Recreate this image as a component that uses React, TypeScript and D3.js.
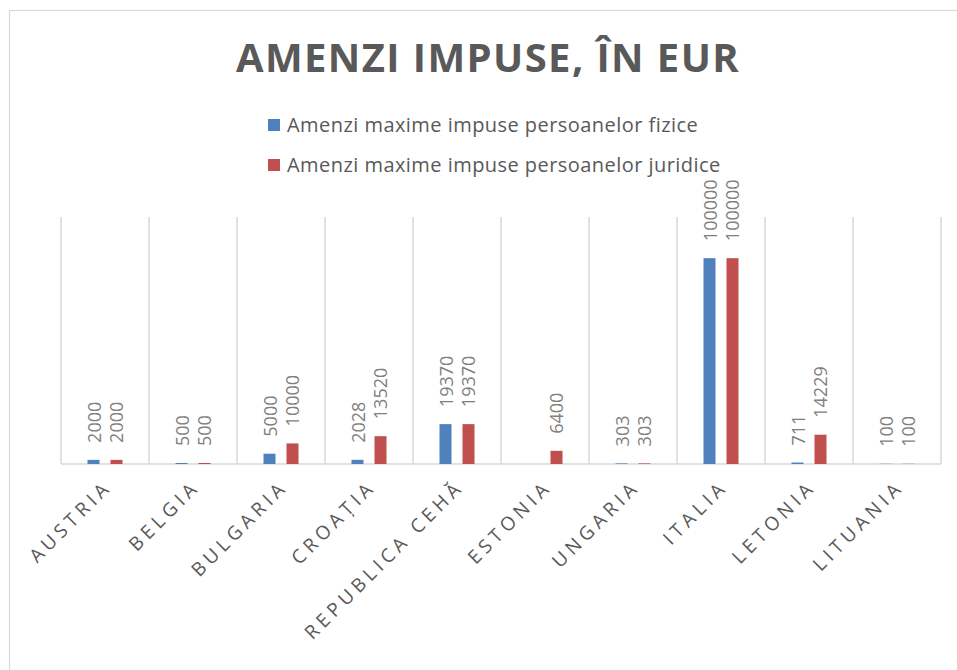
import React from "react";
import * as d3 from "d3";

const categories = ["AUSTRIA", "BELGIA", "BULGARIA", "CROAȚIA", "REPUBLICA CEHĂ", "ESTONIA", "UNGARIA", "ITALIA", "LETONIA", "LITUANIA"];
const fizice: (number | null)[] = [2000, 500, 5000, 2028, 19370, null, 303, 100000, 711, 100];
const juridice: (number | null)[] = [2000, 500, 10000, 13520, 19370, 6400, 303, 100000, 14229, 100];
const seriesNames = ["Amenzi maxime impuse persoanelor fizice", "Amenzi maxime impuse persoanelor juridice"];
const seriesColors = ["#4f81bd", "#c0504d"];
const yMax = 120000;

const W = 957, H = 670;
const plot = { left: 61, right: 941, top: 217, bottom: 464 };

export default function App() {
  const x0 = d3.scaleBand<string>().domain(categories).range([plot.left, plot.right]).paddingInner(0).paddingOuter(0);
  const y = d3.scaleLinear().domain([0, yMax]).range([plot.bottom, plot.top]);
  const series = [fizice, juridice];
  const groupW = 35;
  const x1 = d3.scaleBand<number>().domain([0, 1]).range([0, groupW]).paddingInner(0.478).paddingOuter(0);
  const bw = x0.bandwidth();
  const font = "'Open Sans', 'DejaVu Sans', sans-serif";

  const gridXs = categories.map((c) => x0(c)!).concat([plot.right]);

  return (
    <svg width={W} height={H} style={{ position: "absolute", left: 0, top: 0, background: "#fff" }} fontFamily={font}>
      <rect x={9.5} y={10.5} width={W + 10} height={H + 10} fill="#fff" stroke="#d9d9d9" strokeWidth={1.2} />
      <text x={488} y={72} textAnchor="middle" fontSize={40} fontWeight="bold" fill="#595959" letterSpacing={1.4}>
        AMENZI IMPUSE, ÎN EUR
      </text>
      {seriesNames.map((n, i) => (
        <g key={n} transform={`translate(268, ${119 + i * 40})`}>
          <rect x={0} y={0} width={12} height={12} fill={seriesColors[i]} />
          <text x={19} y={13} fontSize={20} fill="#595959" letterSpacing={0.45}>{n}</text>
        </g>
      ))}
      {gridXs.map((gx, i) => (
        <line key={i} x1={gx} x2={gx} y1={plot.top} y2={plot.bottom} stroke="#d9d9d9" strokeWidth={1.5} />
      ))}
      <line x1={plot.left} x2={plot.right} y1={plot.bottom} y2={plot.bottom} stroke="#d9d9d9" strokeWidth={1.5} />
      {categories.map((c, ci) => {
        const gx = x0(c)! + (bw - groupW) / 2;
        return (
          <g key={c}>
            {series.map((s, si) => {
              const v = s[ci];
              if (v === null) return null;
              const bx = gx + x1(si)!;
              const by = y(v);
              const cx = bx + x1.bandwidth() / 2;
              return (
                <g key={si}>
                  <rect x={bx} y={by} width={x1.bandwidth()} height={plot.bottom - by} fill={seriesColors[si]} />
                  <text transform={`translate(${cx}, ${by - 17}) rotate(-90)`} textAnchor="start" dominantBaseline="central" fontSize={18} fill="#7f7f7f">
                    {v}
                  </text>
                </g>
              );
            })}
            <text transform={`translate(${x0(c)! + bw / 2 + 8}, 488) rotate(-45)`} textAnchor="end" fontSize={19} fill="#595959" letterSpacing={4.5}>
              {c}
            </text>
          </g>
        );
      })}
    </svg>
  );
}
